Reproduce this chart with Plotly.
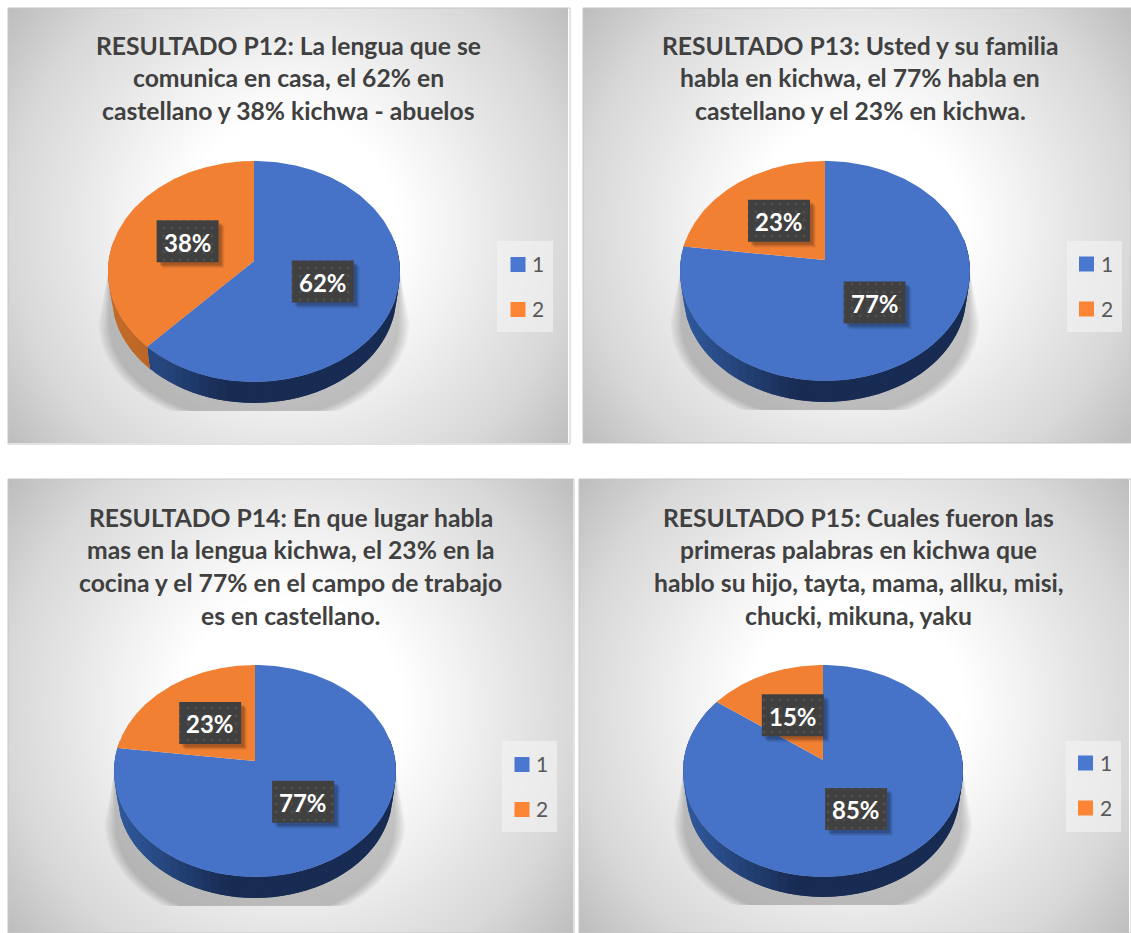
#!/usr/bin/env python3
# Four tilted survey pies, P12 to P15, each with its own gradient card and key
import numpy as np
import plotly.graph_objects as go

CATEGORIES = ['1', '2']

P12_VALUES = [62, 38]
P13_VALUES = [77, 23]
P14_VALUES = [77, 23]
P15_VALUES = [85, 15]

P12_TITLE = ['RESULTADO P12: La lengua que se',
             'comunica en casa, el 62% en',
             'castellano y 38% kichwa - abuelos']
P13_TITLE = ['RESULTADO P13: Usted y su familia',
             'habla en kichwa, el 77% habla en',
             'castellano y el 23% en kichwa.']
P14_TITLE = ['RESULTADO P14: En que lugar habla',
             'mas en la lengua kichwa, el 23% en la',
             'cocina y el 77% en el campo de trabajo',
             'es en castellano.']
P15_TITLE = ['RESULTADO P15: Cuales fueron las',
             'primeras palabras en kichwa que',
             'hablo su hijo, tayta, mama, allku, misi,',
             'chucki, mikuna, yaku']

W, H = 1131, 933
FONT = 'Lato'
TOP_COLORS = ['#4673c7', '#f28033']
KEY_COLORS = ['#4a78d0', '#fb8535']
SIDE_LIGHT = ['#30599c', '#c46c2a']
SIDE_DARK = ['#182b52', '#a95a1f']

# panel box, pie geometry in page pixels, title anchor, key box and swatch anchor
PANELS = [
    dict(values=P12_VALUES, title=P12_TITLE, box=(8, 8, 570, 444), cx=254, rx=146,
         top=161, vy=261, bottom=382, base=403, title_xy=(288.5, 45),
         key_box=(497, 241, 553, 332), key_xy=(518, 264.5)),
    dict(values=P13_VALUES, title=P13_TITLE, box=(583, 8, 1131, 443), cx=825, rx=145,
         top=161, vy=260, bottom=381, base=402, title_xy=(860, 45),
         key_box=(1067, 241, 1122, 332), key_xy=(1086.5, 264)),
    dict(values=P14_VALUES, title=P14_TITLE, box=(8, 479, 574, 933), cx=255, rx=141,
         top=665, vy=761, bottom=877, base=898, title_xy=(290.5, 517),
         key_box=(502, 741, 557, 832), key_xy=(522, 764.5)),
    dict(values=P15_VALUES, title=P15_TITLE, box=(579, 479, 1131, 933), cx=823, rx=140,
         top=665, vy=760, bottom=877, base=897, title_xy=(858.5, 517),
         key_box=(1066, 741, 1121, 832), key_xy=(1085.5, 763)),
]


class Tilt:
    # Circle seen in perspective, the near side comes out larger
    def __init__(self, p):
        self.up = p['vy'] - p['top']
        self.down = p['bottom'] - p['vy']
        self.k = (self.down - self.up) / (self.down + self.up)
        self.a = self.up * (1 + self.k)
        self.r = p['rx'] * np.sqrt(1 - self.k ** 2)
        self.cx = p['cx']
        self.vy = p['vy']
        self.shrink = 0.975
        self.drop = p['base'] - p['vy'] - self.down * self.shrink

    def face(self, theta, f=1.0):
        v = f * np.cos(theta)
        den = 1 + self.k * v
        return self.cx + self.r * f * np.sin(theta) / den, self.vy - self.a * v / den

    def rim_low(self, theta):
        x, y = self.face(theta)
        return self.cx + (x - self.cx) * self.shrink, self.vy + (y - self.vy) * self.shrink + self.drop


def mix(c0, c1, t):
    a = [int(c0[i:i + 2], 16) for i in (1, 3, 5)]
    b = [int(c1[i:i + 2], 16) for i in (1, 3, 5)]
    return 'rgb(%d,%d,%d)' % tuple(a[i] + (b[i] - a[i]) * t for i in range(3))


def poly(xs, ys, color):
    return go.Scatter(x=list(xs), y=list(ys), mode='lines', fill='toself', fillcolor=color,
                      line=dict(width=0, color=color), showlegend=False, hoverinfo='skip')


def background(p):
    x0, y0, x1, y1 = p['box']
    xs = np.arange(x0 + 2.5, x1, 5)
    ys = np.arange(y0 + 2.5, y1, 5)
    gx, gy = np.meshgrid(xs, ys)
    mx, my = (x0 + x1) / 2, (y0 + y1) / 2
    t = np.hypot(gx - mx, gy - my) / np.hypot(x1 - mx, y1 - my)
    scale = [[0, '#ffffff'], [0.3, '#ffffff'], [0.47, '#f2f2f2'], [0.61, '#e6e6e6'],
             [0.79, '#d8d8d8'], [1, '#bdbdbd']]
    return go.Heatmap(x=xs, y=ys, z=t, zmin=0, zmax=1, colorscale=scale, zsmooth='best',
                      showscale=False, hoverinfo='skip')


def shadow_traces(p, t):
    out = []
    sy = p['vy'] + 62
    clip = p['base'] + 8
    th = np.linspace(np.pi / 2, 3 * np.pi / 2, 60)
    for s in (1.07, 1.058, 1.046, 1.034, 1.022, 1.01, 0.998):
        xs = p['cx'] + s * t.r * np.sin(th)
        ys = np.minimum(sy - s * 98 * np.cos(th), clip)
        xs = np.r_[p['cx'] - t.r, xs[::-1], p['cx'] + t.r]
        ys = np.r_[p['vy'] + 8, ys[::-1], p['vy'] + 8]
        out.append(poly(xs, ys, 'rgba(0,0,0,0.03)'))
    return out


def pie_traces(p, t):
    fracs = np.array(p['values']) / sum(p['values'])
    edges = np.r_[0, np.cumsum(fracs)] * 2 * np.pi
    out = []

    # side wall, cut in strips so its shade can run left to right
    # each strip reaches back over the one before it, that hides the seams
    cuts = np.linspace(np.pi / 2 - 0.2, 3 * np.pi / 2 + 0.2, 61)
    cuts = np.unique(np.r_[cuts, edges[1]])
    for n in range(len(cuts) - 1):
        a, b = cuts[n], cuts[n + 1]
        mid = (a + b) / 2
        i = 0 if mid < edges[1] else 1
        s = (t.face(mid)[0] - t.cx) / t.r
        shade = np.clip((s + 0.25) / -0.75, 0, 1)
        start = a if n == 0 or a == edges[1] else cuts[n - 1]
        th = np.linspace(start, b, 5)
        xt, yt = t.face(th)
        xb, yb = t.rim_low(th)
        out.append(poly(np.r_[xt, xb[::-1]], np.r_[yt, yb[::-1]],
                        mix(SIDE_DARK[i], SIDE_LIGHT[i], shade)))

    for i in range(len(fracs)):
        th = np.linspace(edges[i], edges[i + 1], 160)
        xs, ys = t.face(th)
        out.append(poly(np.r_[t.cx, xs], np.r_[t.vy, ys], TOP_COLORS[i]))
    return out


def label_traces(p, t):
    fracs = np.array(p['values']) / sum(p['values'])
    edges = np.r_[0, np.cumsum(fracs)] * 2 * np.pi
    out, notes = [], []
    bw, bh = 62, 42
    for i, val in enumerate(p['values']):
        lx, ly = t.face((edges[i] + edges[i + 1]) / 2, 0.5)
        for off, alpha in ((6, 0.05), (5, 0.07), (4, 0.09), (3, 0.12)):
            out.append(poly([lx - bw / 2 + off, lx + bw / 2 + off, lx + bw / 2 + off, lx - bw / 2 + off],
                            [ly - bh / 2 + off, ly - bh / 2 + off, ly + bh / 2 + off, ly + bh / 2 + off],
                            'rgba(0,0,0,%.2f)' % alpha))
        box = poly([lx - bw / 2, lx + bw / 2, lx + bw / 2, lx - bw / 2],
                   [ly - bh / 2, ly - bh / 2, ly + bh / 2, ly + bh / 2], '#404040')
        box.fillpattern = dict(shape='.', size=8, solidity=0.1, fgcolor='#5c5c5c', bgcolor='#404040')
        out.append(box)
        notes.append(dict(x=lx, y=ly + 1, xref='x', yref='y', text='<b>%d%%</b>' % val, showarrow=False,
                          font=dict(family=FONT, size=24, color='white')))
    return out, notes


fig = go.Figure()
annotations = []
shapes = []

for p in PANELS:
    t = Tilt(p)
    fig.add_trace(background(p))
    x0, y0, x1, y1 = p['box']
    shapes.append(dict(type='rect', x0=x0, y0=y0, x1=x1, y1=y1, xref='x', yref='y',
                       line=dict(color='#c6c6c6', width=1)))
    fig.add_traces(shadow_traces(p, t))
    fig.add_traces(pie_traces(p, t))
    boxes, notes = label_traces(p, t)
    fig.add_traces(boxes)
    annotations += notes

    tx, ty = p['title_xy']
    for n, line in enumerate(p['title']):
        annotations.append(dict(x=tx, y=ty + n * 32.7, xref='x', yref='y', text='<b>%s</b>' % line,
                                showarrow=False, font=dict(family=FONT, size=24.7, color='#404040')))

    # key: pale box, square swatch and its digit
    kx0, ky0, kx1, ky1 = p['key_box']
    fig.add_trace(poly([kx0, kx1, kx1, kx0], [ky0, ky0, ky1, ky1], 'rgba(243,243,243,0.65)'))
    kx, ky = p['key_xy']
    for i, cat in enumerate(CATEGORIES):
        fig.add_trace(go.Scatter(x=[kx], y=[ky + i * 45], mode='markers', name=cat, showlegend=False,
                                 hoverinfo='skip', marker=dict(symbol='square', size=15, color=KEY_COLORS[i])))
        annotations.append(dict(x=kx + 12, y=ky + i * 45 - 1, xref='x', yref='y', xanchor='left', text=cat,
                                showarrow=False, font=dict(family=FONT, size=21, color='#595959')))

fig.update_layout(width=W, height=H, margin=dict(l=0, r=0, t=0, b=0),
                  paper_bgcolor='white', plot_bgcolor='white',
                  xaxis=dict(range=[0, W], visible=False, fixedrange=True),
                  yaxis=dict(range=[H, 0], visible=False, fixedrange=True),
                  annotations=annotations, shapes=shapes, showlegend=False)

fig.write_html('out.html', config=dict(displayModeBar=False),
               post_script="document.body.style.margin='0';document.body.style.overflow='hidden';")
